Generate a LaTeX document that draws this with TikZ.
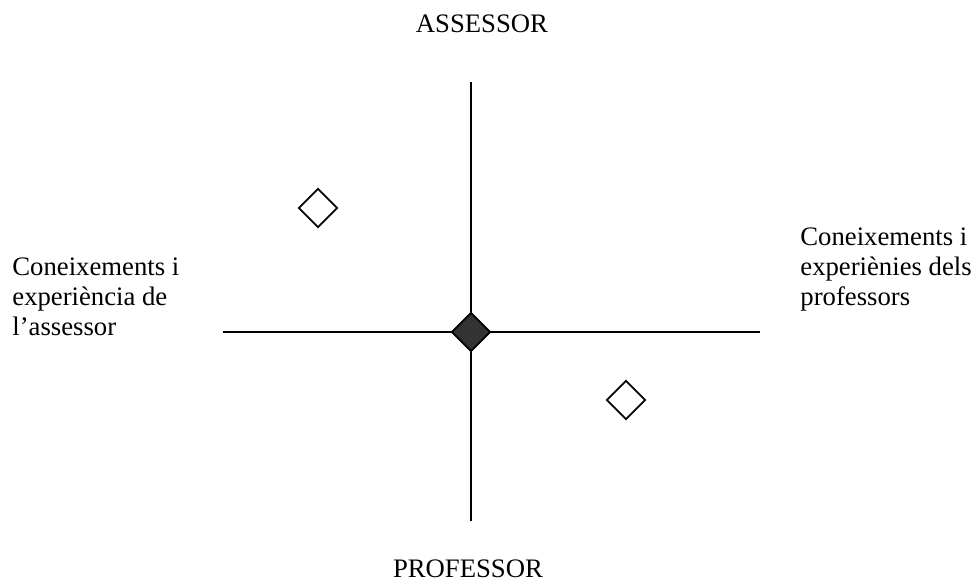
\documentclass[tikz,border=0pt]{standalone}
\usepackage{fontspec}
\setmainfont{Liberation Serif}
\usetikzlibrary{shapes.geometric}

\begin{document}
\begin{tikzpicture}[x=0.5pt,y=-0.5pt,
  every node/.style={font=\fontsize{13.35}{15}\selectfont},
  axis/.style={line width=1pt},
  opinion/.style={draw,diamond,line width=0.9pt,inner sep=0pt,minimum width=19.5pt,minimum height=19.5pt,fill=white},
  sidetext/.style={align=left,inner sep=0pt,anchor=base west},
  poletext/.style={inner sep=0pt,anchor=base}
]
  \useasboundingbox[fill=white] (0,0) rectangle (973,583);
  % axes
  \coordinate (top) at (471,82);
  \coordinate (bottom) at (471,521);
  \coordinate (left) at (223,332);
  \coordinate (right) at (760,332);
  \draw[axis] (top) -- (bottom);
  \draw[axis] (left) -- (right);
  % poles
  \node[poletext] (assessor) at (482,33) {ASSESSOR};
  \node[poletext] (professor) at (468,577) {PROFESSOR};
  \node[sidetext] (knowa) at (12,335) {Coneixements i\\experiència de\\l’assessor};
  \node[sidetext] (knowp) at (800,305) {Coneixements i\\experiènies dels\\professors};
  % positions
  \node[opinion] (pa) at (318,208) {};
  \node[opinion] (pp) at (626,400) {};
  \node[opinion,fill=black!80] (meet) at (471,332) {};
\end{tikzpicture}
\end{document}
